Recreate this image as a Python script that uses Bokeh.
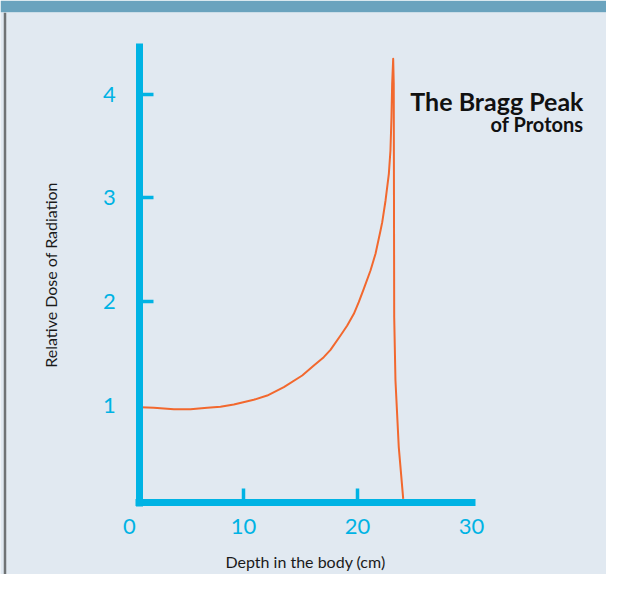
from bokeh.plotting import figure
from bokeh.models import LinearAxis, FixedTicker, Range1d, Label, Span
from bokeh.embed import file_html
from bokeh.resources import INLINE

# ---- data ----
depth_cm = [0.965, 2.13, 3.89, 5.35, 6.82, 7.98, 9.15, 10.90, 12.08, 13.54,
            15.15, 16.17, 17.04, 17.63, 18.51, 19.10, 19.68, 20.11, 20.55, 21.14,
            21.58, 22.02, 22.17, 22.46, 22.75, 22.89, 22.98, 23.04, 23.13, 23.18,
            23.22, 23.33, 23.62, 24.01]
relative_dose = [0.980, 0.976, 0.962, 0.962, 0.976, 0.986, 1.008, 1.053, 1.094, 1.175,
                 1.287, 1.384, 1.464, 1.535, 1.673, 1.770, 1.882, 1.994, 2.123, 2.300,
                 2.461, 2.686, 2.766, 2.975, 3.232, 3.457, 3.778, 4.100, 4.341, 4.100,
                 1.850, 1.239, 0.596, 0.098]
x_tick_labels = [0, 10, 20, 30]
y_tick_labels = [1, 2, 3, 4]
x_tick_marks = [10, 20]
y_tick_marks = [2, 3, 4]

title_main = "The Bragg Peak"
title_sub = "of Protons"
x_title = "Depth in the body (cm)"
y_title = "Relative Dose of Radiation"

# ---- styles ----
BG = "#e1e9f1"
BAND = "#6aa3be"
CYAN = "#00b3e4"
ORANGE = "#f2682e"
TXT = "#1a1a1a"
EDGE = "#6f7375"

p = figure(width=606, height=574, output_backend="svg", toolbar_location=None,
           x_range=Range1d(-11.316, 41.842), y_range=Range1d(-0.632, 4.788),
           x_axis_type=None, y_axis_type=None,
           min_border_left=0, min_border_right=0, min_border_bottom=0, min_border_top=12)
p.background_fill_color = BG
p.border_fill_color = BAND
p.outline_line_color = None

# thin dark frame edge on the left side of the panel
p.add_layout(Span(location=-10.921, dimension="height", line_color=EDGE, line_width=2.5))

X_AT = 0.058   # where the x axis crosses (data y)
Y_AT = 0.90    # where the y axis crosses (data x)

# x axis: line + inward tick marks + axis title
xa = LinearAxis(ticker=FixedTicker(ticks=[], minor_ticks=x_tick_marks),
                fixed_location=X_AT, bounds=(0.526, 30.35),
                axis_line_color=CYAN, axis_line_width=7, axis_line_cap="butt",
                major_tick_line_color=None,
                minor_tick_in=14, minor_tick_out=0,
                minor_tick_line_color=CYAN, minor_tick_line_width=3.5,
                axis_label=x_title, axis_label_standoff=49,
                axis_label_text_font="Lato", axis_label_text_font_size="16px",
                axis_label_text_font_style="normal", axis_label_text_color=TXT)
p.add_layout(xa, "below")
# x axis tick labels
xb = LinearAxis(ticker=FixedTicker(ticks=x_tick_labels), fixed_location=X_AT,
                axis_line_color=None, major_tick_line_color=None, minor_tick_line_color=None,
                major_label_text_color=CYAN, major_label_text_font="Lato",
                major_label_text_font_size="22px", major_label_standoff=10)
p.add_layout(xb, "below")

# y axis: line + inward tick marks + axis title
ya = LinearAxis(ticker=FixedTicker(ticks=[], minor_ticks=y_tick_marks),
                fixed_location=Y_AT, bounds=(0.024, 4.49),
                axis_line_color=CYAN, axis_line_width=7, axis_line_cap="butt",
                major_tick_line_color=None,
                minor_tick_in=14, minor_tick_out=0,
                minor_tick_line_color=CYAN, minor_tick_line_width=3.5,
                axis_label=y_title, axis_label_standoff=80,
                axis_label_text_font="Lato", axis_label_text_font_size="16px",
                axis_label_text_font_style="normal", axis_label_text_color=TXT)
p.add_layout(ya, "left")
yb = LinearAxis(ticker=FixedTicker(ticks=y_tick_labels), fixed_location=Y_AT,
                axis_line_color=None, major_tick_line_color=None, minor_tick_line_color=None,
                major_label_text_color=CYAN, major_label_text_font="Lato",
                major_label_text_font_size="22px", major_label_standoff=18)
p.add_layout(yb, "left")

# the Bragg curve
p.line(depth_cm, relative_dose, line_color=ORANGE, line_width=2, line_join="round")

# title block
p.add_layout(Label(x=39.82, y=3.935, text=title_main, text_align="right",
                   text_baseline="alphabetic", text_font="Lato", text_font_style="bold",
                   text_font_size="25px", text_color="#111111"))
p.add_layout(Label(x=39.82, y=3.710, text=title_sub, text_align="right",
                   text_baseline="alphabetic", text_font="Lato", text_font_style="bold",
                   text_font_size="20px", text_color="#111111"))

open("out.html", "w").write(file_html(p, INLINE))
